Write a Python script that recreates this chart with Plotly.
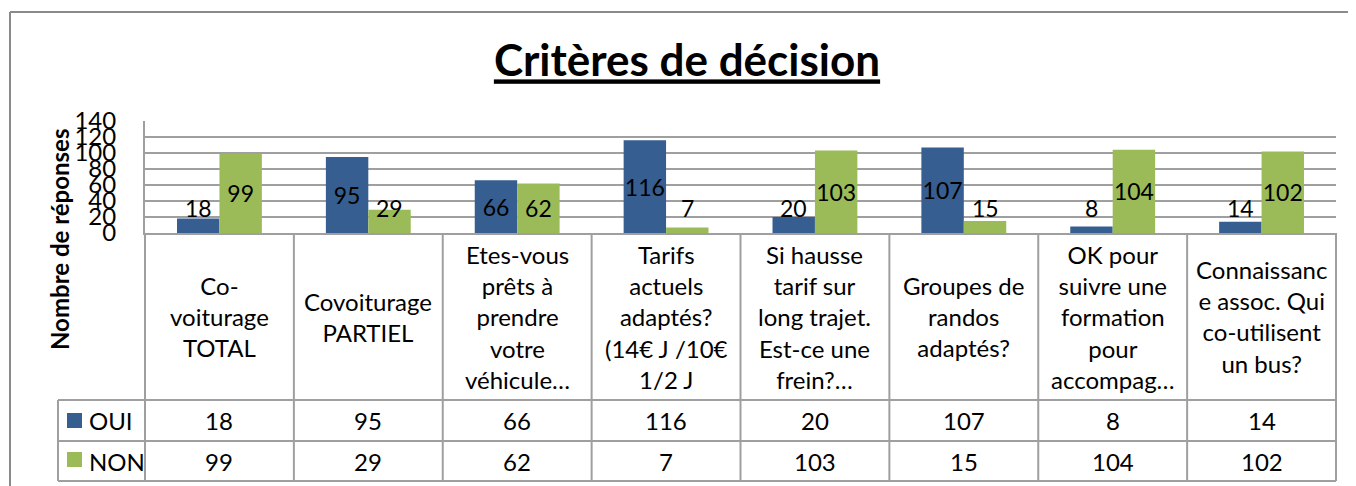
import plotly.graph_objects as go

categories = [
    "Co-\nvoiturage\nTOTAL",
    "Covoiturage\nPARTIEL",
    "Etes-vous\nprêts à\nprendre\nvotre\nvéhicule…",
    "Tarifs\nactuels\nadaptés?\n(14€ J /10€\n1/2 J",
    "Si hausse\ntarif sur\nlong trajet.\nEst-ce une\nfrein?…",
    "Groupes de\nrandos\nadaptés?",
    "OK pour\nsuivre une\nformation\npour\naccompag…",
    "Connaissanc\ne assoc. Qui\nco-utilisent\nun bus?",
]
oui = [18, 95, 66, 116, 20, 107, 8, 14]
non = [99, 29, 62, 7, 103, 15, 104, 102]
series_names = ["OUI", "NON"]
y_ticks = [0, 20, 40, 60, 80, 100, 120, 140]

BLUE = "#365E91"
GREEN = "#9BBB59"
GRID = "#9f9f9f"
FONT = "Lato"
SMALL = 40          # labels of bars below this value sit above the bar (Excel placement)
SMALL_LABEL_Y = 31  # height (in axis units) where Excel drew those labels
BARGAP = 0.43

OFF = 8  # page body margin offset
W, H = 1356 - OFF, 486 - OFF
P_LEFT, P_RIGHT, P_TOP, P_BOTTOM = 145, 1336, 121, 233
L = P_LEFT - OFF
T = P_TOP - OFF
PW = P_RIGHT - P_LEFT
PH = P_BOTTOM - P_TOP
R = W - L - PW
B = H - T - PH


def xp(px):
    return (px - P_LEFT) / PW


def yp(py):
    return (P_BOTTOM - py) / PH


labels = [c.replace("\n", "<br>") for c in categories]
n = len(categories)
bar_px = PW / n * (1 - BARGAP) / 2

fig = go.Figure()
annotations = []
for j, (name, vals, col) in enumerate([("OUI", oui, BLUE), ("NON", non, GREEN)]):
    fig.add_trace(go.Bar(
        x=labels, y=vals, name=name, marker=dict(color=col, line=dict(width=0)),
        text=[str(v) if v >= SMALL else "" for v in vals],
        textposition="inside", insidetextanchor="middle", textangle=0,
        textfont=dict(family=FONT, size=23, color="black"),
        cliponaxis=False,
    ))
    for lab, v in zip(labels, vals):
        if v < SMALL:
            annotations.append(dict(xref="x", yref="y", x=lab, y=max(v, SMALL_LABEL_Y),
                                    xshift=(j - 0.5) * bar_px, text=str(v), showarrow=False,
                                    font=dict(family=FONT, size=23, color="black"),
                                    xanchor="center", yanchor="middle"))

shapes = []
line = dict(color=GRID, width=2)
for i in range(n + 1):
    shapes.append(dict(type="line", xref="paper", yref="paper",
                       x0=i / n, x1=i / n, y0=yp(P_BOTTOM), y1=yp(481), line=line))
shapes.append(dict(type="line", xref="paper", yref="paper",
                   x0=xp(58), x1=xp(58), y0=yp(400), y1=yp(481), line=line))
for r in [400, 441, 481]:
    shapes.append(dict(type="line", xref="paper", yref="paper",
                       x0=xp(58), x1=1, y0=yp(r), y1=yp(r), line=line))
for col, (y0, y1) in [(BLUE, (413, 428)), (GREEN, (452, 467))]:
    shapes.append(dict(type="rect", xref="paper", yref="paper",
                       x0=xp(67), x1=xp(82), y0=yp(y1), y1=yp(y0),
                       fillcolor=col, line=dict(width=0)))
shapes.append(dict(type="line", xref="paper", yref="paper",
                   x0=xp(10), x1=xp(10), y0=yp(12), y1=yp(500),
                   line=dict(color="#8a8a8a", width=2)))
shapes.append(dict(type="line", xref="paper", yref="paper",
                   x0=xp(10), x1=xp(1370), y0=yp(12), y1=yp(12),
                   line=dict(color="#8a8a8a", width=2)))

cell_font = dict(family=FONT, size=24, color="black")
for i, lab in enumerate(labels):
    annotations.append(dict(xref="x", yref="paper", x=lab, y=yp((P_BOTTOM + 400) / 2),
                            text=lab, showarrow=False, font=cell_font,
                            xanchor="center", yanchor="middle", align="center"))
    annotations.append(dict(xref="x", yref="paper", x=lab, y=yp(420.5),
                            text=str(oui[i]), showarrow=False, font=cell_font,
                            xanchor="center", yanchor="middle"))
    annotations.append(dict(xref="x", yref="paper", x=lab, y=yp(461),
                            text=str(non[i]), showarrow=False, font=cell_font,
                            xanchor="center", yanchor="middle"))
for name, yc in zip(series_names, [420.5, 461]):
    annotations.append(dict(xref="paper", yref="paper", x=xp(87), y=yp(yc),
                            text=name, showarrow=False, font=cell_font,
                            xanchor="left", yanchor="middle"))
annotations.append(dict(xref="paper", yref="paper", x=xp(59), y=yp(240),
                        text="<b>Nombre de réponses</b>", textangle=-90, showarrow=False,
                        font=dict(family=FONT, size=24, color="black"),
                        xanchor="center", yanchor="middle"))

fig.update_layout(
    width=W, height=H,
    margin=dict(l=L, r=R, t=T, b=B, autoexpand=False),
    paper_bgcolor="white", plot_bgcolor="white",
    barmode="group", bargap=BARGAP, bargroupgap=0,
    showlegend=False,
    title=dict(text="<b>Critères de décision</b>", x=(687 - OFF) / W, xref="container",
               xanchor="center", y=1 - (61 - OFF) / H, yref="container", yanchor="middle",
               font=dict(family=FONT, size=44, color="black", lineposition="under")),
    font=dict(family=FONT, color="black"),
    xaxis=dict(range=[-0.5, n - 0.5], showticklabels=False, showgrid=False,
               showline=True, linecolor=GRID, linewidth=2, ticks="", zeroline=False),
    yaxis=dict(range=[0, 140], tickvals=y_ticks, ticktext=[str(v) for v in y_ticks],
               showgrid=True, gridcolor=GRID, gridwidth=2,
               showline=True, linecolor=GRID, linewidth=2, zeroline=False,
               ticks="", ticklabelstandoff=22,
               tickfont=dict(family=FONT, size=24, color="black")),
    uniformtext=dict(minsize=23, mode="show"),
    shapes=shapes, annotations=annotations,
)

fig.write_html("out.html")
